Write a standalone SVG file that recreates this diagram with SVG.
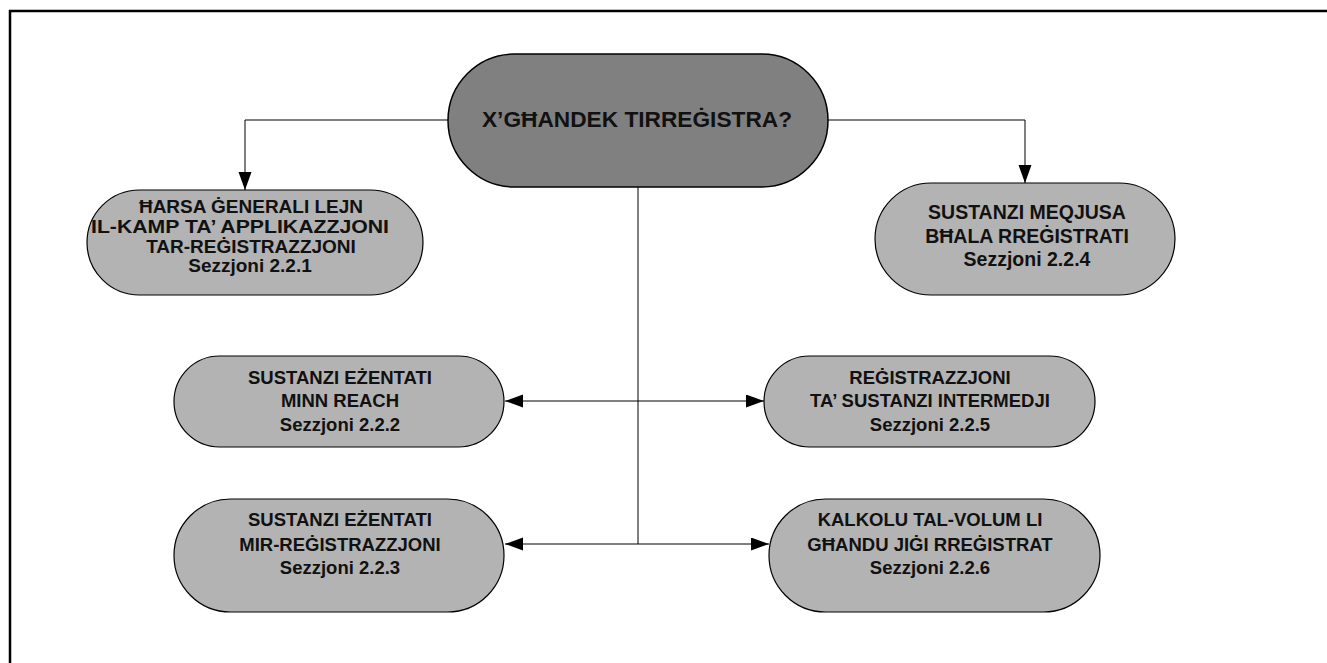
<svg xmlns="http://www.w3.org/2000/svg" width="1327" height="663" viewBox="0 0 1327 663">
<style>
.frame{fill:none;stroke:#000;stroke-width:2.5}
.main{fill:#808080;stroke:#000;stroke-width:1.5}
.box{fill:#b3b3b3;stroke:#000;stroke-width:1.2}
.conn{fill:none;stroke:#000;stroke-width:1}
text{font-family:"Liberation Sans",Arial,sans-serif;font-weight:bold;fill:#111;text-anchor:middle}
.t{font-size:22.7px}
.s{font-size:18.5px}
.s2{font-size:19px}
.s3{font-size:19.5px}
</style>
<defs>
<marker id="ah" markerUnits="userSpaceOnUse" markerWidth="20" markerHeight="14" refX="18" refY="6.5" orient="auto">
<path d="M0,0 L18,6.5 L0,13 Z" fill="#000"/>
</marker>
</defs>
<path class="frame" d="M10,663 V11 H1327"/>
<g id="connectors">
<path class="conn" d="M448,120 H245 V190" marker-end="url(#ah)"/>
<path class="conn" d="M828,120 H1025 V183" marker-end="url(#ah)"/>
<path class="conn" d="M638,187 V544"/>
<path class="conn" d="M638,401 H505" marker-end="url(#ah)"/>
<path class="conn" d="M638,401 H764" marker-end="url(#ah)"/>
<path class="conn" d="M638,544 H505" marker-end="url(#ah)"/>
<path class="conn" d="M638,544 H769" marker-end="url(#ah)"/>
</g>
<g id="n0">
<rect class="main" x="448" y="54" width="380" height="133" rx="66.5"/>
<text class="t" x="637" y="127">X’GĦANDEK TIRREĠISTRA?</text>
</g>
<g id="n1">
<rect class="box" x="87" y="190" width="336" height="105" rx="52.5"/>
<text class="s2" x="251" y="213">ĦARSA ĠENERALI LEJN</text>
<text class="s2" x="240" y="233" textLength="298" lengthAdjust="spacingAndGlyphs">IL-KAMP TA’ APPLIKAZZJONI</text>
<text class="s2" x="251" y="253">TAR-REĠISTRAZZJONI</text>
<text class="s2" x="250" y="272">Sezzjoni 2.2.1</text>
</g>
<g id="n4">
<rect class="box" x="875" y="183" width="300" height="112" rx="56"/>
<text class="s3" x="1027" y="219">SUSTANZI MEQJUSA</text>
<text class="s3" x="1027" y="243">BĦALA RREĠISTRATI</text>
<text class="s3" x="1027" y="266">Sezzjoni 2.2.4</text>
</g>
<g id="n2">
<rect class="box" x="174" y="356" width="330" height="91" rx="45.5"/>
<text class="s" x="340" y="384">SUSTANZI EŻENTATI</text>
<text class="s" x="340" y="407">MINN REACH</text>
<text class="s" x="340" y="431">Sezzjoni 2.2.2</text>
</g>
<g id="n5">
<rect class="box" x="764" y="356" width="331" height="91" rx="45.5"/>
<text class="s" x="930" y="384">REĠISTRAZZJONI</text>
<text class="s" x="930" y="407">TA’ SUSTANZI INTERMEDJI</text>
<text class="s" x="930" y="431">Sezzjoni 2.2.5</text>
</g>
<g id="n3">
<rect class="box" x="174" y="499" width="330" height="113" rx="56.5"/>
<text class="s" x="340" y="526">SUSTANZI EŻENTATI</text>
<text class="s" x="340" y="551">MIR-REĠISTRAZZJONI</text>
<text class="s" x="340" y="574">Sezzjoni 2.2.3</text>
</g>
<g id="n6">
<rect class="box" x="769" y="499" width="331" height="113" rx="56.5"/>
<text class="s" x="930" y="526">KALKOLU TAL-VOLUM LI</text>
<text class="s" x="930" y="551">GĦANDU JIĠI RREĠISTRAT</text>
<text class="s" x="930" y="574">Sezzjoni 2.2.6</text>
</g>
</svg>
